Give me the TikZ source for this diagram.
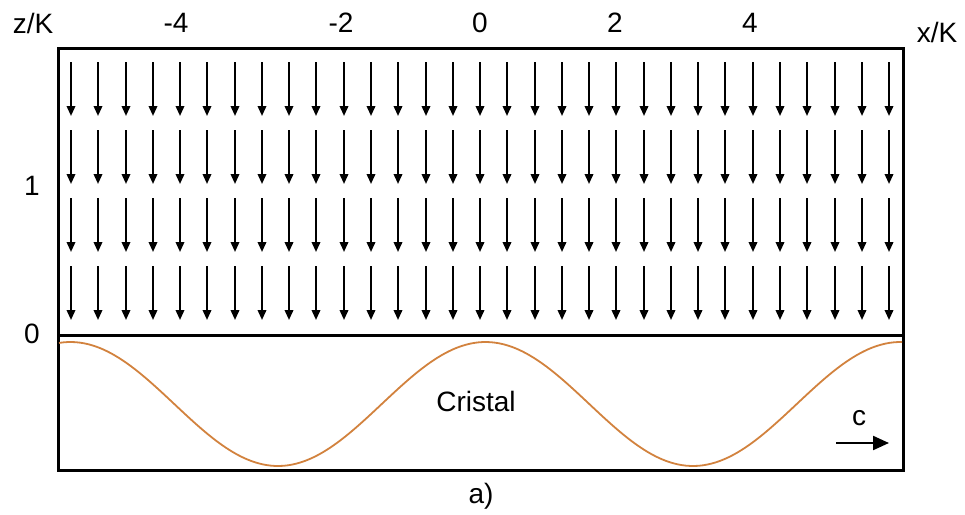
\documentclass[tikz,border=0pt]{standalone}
\usepackage{fontspec}
\setmainfont{Liberation Sans}
\usetikzlibrary{arrows.meta}
\definecolor{Ink}{HTML}{000000}
\definecolor{Wave}{HTML}{D2823E}

\begin{document}
\begin{tikzpicture}[x=1pt,y=-1pt,
  font=\fontsize{28}{32}\selectfont,
  axislabel/.style={anchor=base,inner sep=0pt,text=Ink},
  frame/.style={draw=Ink,line width=3pt},
  field/.style={-{Triangle[length=10pt,width=8.5pt]},line width=2pt,color=Ink},
  wave/.style={draw=Wave,line width=1.8pt},
  drift/.style={-{Triangle[length=16pt,width=14pt]},line width=2.2pt,color=Ink}
]
\useasboundingbox (0,0) rectangle (965,514);

% Axis labels and ticks.
\node[axislabel] (zlab) at (33,33) {z/K};
\node[axislabel] (xlab) at (937,42) {x/K};
\foreach \t/\x in {-4/176,-2/341,0/480,2/615,4/750} {
  \node[axislabel] (xt\t) at (\x,32) {\t};
}
\node[axislabel] (zone) at (32,195) {1};
\node[axislabel] (zzero) at (32,343) {0};

% Field region with downward arrows.
\draw[frame] (58,48) rectangle (903,335);
\foreach \r in {0,...,3} {
  \foreach \c in {0,...,30} {
    \coordinate (f\r-\c) at ({71+round(27.27*\c)},{62+68*\r});
    \coordinate (g\r-\c) at ({71+round(27.27*\c)},{116+68*\r});
    \draw[field] (f\r-\c) -- (g\r-\c);
  }
}

% Crystal surface.
\draw[frame] (58,335) rectangle (903,470);
\begin{scope}
  \clip (58,335) rectangle (903,470);
  \draw[wave] plot[domain=59:902,samples=200,smooth]
    (\x,{404-62*cos(0.86747*(\x-485.5))});
\end{scope}
\node[axislabel] (cristal) at (476,411) {Cristal};
\node[axislabel] (clab) at (859,425) {c};
\coordinate (cstart) at (836,443);
\coordinate (cend) at (889,443);
\draw[drift] (cstart) -- (cend);

\node[axislabel] (caption) at (481,503) {a)};
\end{tikzpicture}
\end{document}
